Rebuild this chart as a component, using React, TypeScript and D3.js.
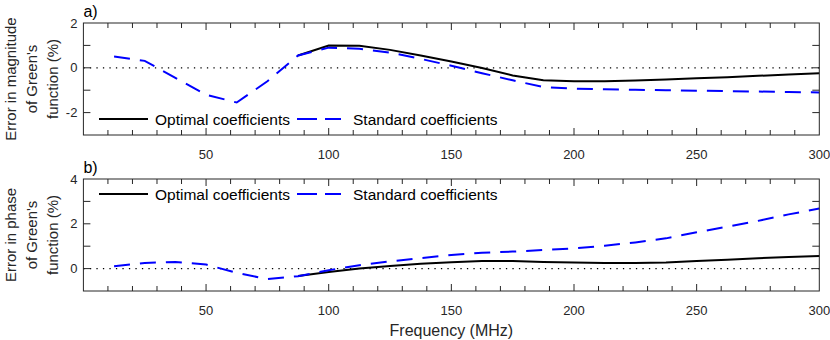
import React, { useEffect, useRef } from 'react';
import * as d3 from 'd3';

// frequency samples (MHz)
const freqLow = [12.5, 25, 37.5, 50, 62.5, 75, 87.5];
const freqHigh = [87.5, 100, 112.5, 125, 137.5, 150, 162.5, 175, 187.5, 200, 212.5, 225, 237.5, 250, 262.5, 275, 287.5, 300];

// a) magnitude error (%)
const magStandardLow = [0.5, 0.31, -0.45, -1.2, -1.55, -0.6, 0.55];
const magStandardHigh = [0.55, 0.9, 0.85, 0.68, 0.4, 0.09, -0.24, -0.56, -0.86, -0.93, -0.96, -0.98, -1.0, -1.02, -1.04, -1.06, -1.08, -1.1];
const magOptimal = [0.55, 0.99, 0.98, 0.8, 0.55, 0.28, -0.01, -0.34, -0.56, -0.6, -0.6, -0.57, -0.52, -0.47, -0.42, -0.36, -0.3, -0.24];

// b) phase error (%)
const phaseStandardLow = [0.1, 0.25, 0.3, 0.18, -0.19, -0.47, -0.34];
const phaseStandardHigh = [-0.34, -0.07, 0.15, 0.32, 0.47, 0.61, 0.71, 0.76, 0.83, 0.9, 1.02, 1.17, 1.35, 1.62, 1.87, 2.13, 2.42, 2.68];
const phaseOptimal = [-0.33, -0.15, 0.0, 0.12, 0.22, 0.28, 0.34, 0.34, 0.3, 0.27, 0.25, 0.25, 0.27, 0.34, 0.4, 0.46, 0.52, 0.56];

const xTicks = [50, 100, 150, 200, 250, 300];
const magTicks = [-2, 0, 2];
const phaseTicks = [0, 2, 4];
const legendLabels = ['Optimal coefficients', 'Standard coefficients'];

const W = 830;
const H = 340;
const FONT = '"Liberation Sans", Arial, Helvetica, sans-serif';
const INK = '#262626';
const BLUE = '#0000ff';

export default function App() {
  const svgRef = useRef<SVGSVGElement | null>(null);

  useEffect(() => {
    const svg = d3.select(svgRef.current);
    svg.selectAll('*').remove();

    const left = 83.4;
    const right = 819.3;
    const x = d3.scaleLinear().domain([0, 300]).range([left, right]);

    const panels = [
      {
        label: 'a)', top: 23, bottom: 135, domain: [-3, 2], ticks: magTicks,
        ylab: ['Error in magnitude', "of Green's", 'function (%)'],
        opt: magOptimal, stdLow: magStandardLow, stdHigh: magStandardHigh,
        legendY: 119, xlab: false,
      },
      {
        label: 'b)', top: 179, bottom: 291, domain: [-1, 4], ticks: phaseTicks,
        ylab: ['Error in phase', "of Green's", 'function (%)'],
        opt: phaseOptimal, stdLow: phaseStandardLow, stdHigh: phaseStandardHigh,
        legendY: 194, xlab: true,
      },
    ];

    panels.forEach(p => {
      const y = d3.scaleLinear().domain(p.domain).range([p.bottom, p.top]);
      const g = svg.append('g');

      // zero line
      g.append('line').attr('x1', left).attr('x2', right).attr('y1', y(0)).attr('y2', y(0))
        .attr('stroke', '#000').attr('stroke-width', 1.3).attr('stroke-dasharray', '1.3 5.2');

      const line = d3.line<[number, number]>().x(d => x(d[0])).y(d => y(d[1]));
      const stdPts = [
        ...freqLow.map((f, i) => [f, p.stdLow[i]] as [number, number]),
        ...freqHigh.slice(1).map((f, i) => [f, p.stdHigh[i + 1]] as [number, number]),
      ];
      const optPts = freqHigh.map((f, i) => [f, p.opt[i]] as [number, number]);

      g.append('path').datum(optPts).attr('d', line).attr('fill', 'none')
        .attr('stroke', '#000').attr('stroke-width', 2);
      g.append('path').datum(stdPts).attr('d', line).attr('fill', 'none')
        .attr('stroke', BLUE).attr('stroke-width', 2).attr('stroke-dasharray', '16 10');

      // box
      g.append('rect').attr('x', left).attr('y', p.top).attr('width', right - left).attr('height', p.bottom - p.top)
        .attr('fill', 'none').attr('stroke', INK).attr('stroke-width', 1);

      // x ticks, inward, on both edges
      d3.range(10, 300, 10).forEach(v => {
        const len = v % 50 === 0 ? 7 : 5;
        g.append('line').attr('x1', x(v)).attr('x2', x(v)).attr('y1', p.bottom).attr('y2', p.bottom - len)
          .attr('stroke', INK);
        g.append('line').attr('x1', x(v)).attr('x2', x(v)).attr('y1', p.top).attr('y2', p.top + len)
          .attr('stroke', INK);
      });
      xTicks.forEach(v => {
        g.append('text').attr('x', x(v)).attr('y', p.bottom + 24).attr('text-anchor', 'middle')
          .attr('font-size', 13).attr('fill', INK).attr('font-family', FONT).text(v);
      });

      // y ticks
      d3.range(p.domain[0], p.domain[1] + 0.01, 1).forEach(v => {
        if (v === p.domain[0] || v === p.domain[1]) return;
        g.append('line').attr('x1', left).attr('x2', left + 7).attr('y1', y(v)).attr('y2', y(v)).attr('stroke', INK);
        g.append('line').attr('x1', right).attr('x2', right - 7).attr('y1', y(v)).attr('y2', y(v)).attr('stroke', INK);
      });
      p.ticks.forEach(v => {
        g.append('text').attr('x', left - 6).attr('y', y(v) + 4.5).attr('text-anchor', 'end')
          .attr('font-size', 13).attr('fill', INK).attr('font-family', FONT).text(v);
      });

      // y label
      const cy = (p.top + p.bottom) / 2;
      p.ylab.forEach((t, i) => {
        g.append('text').attr('transform', `translate(${15.5 + i * 21.2},${cy}) rotate(-90)`)
          .attr('text-anchor', 'middle').attr('font-size', 15).attr('fill', INK).attr('font-family', FONT).text(t);
      });

      // panel label
      g.append('text').attr('x', left).attr('y', p.top - 6).attr('font-size', 16).attr('fill', '#000')
        .attr('font-family', FONT).text(p.label);

      // legend
      const ly = p.legendY;
      g.append('line').attr('x1', 99).attr('x2', 148).attr('y1', ly).attr('y2', ly)
        .attr('stroke', '#000').attr('stroke-width', 2);
      g.append('text').attr('x', 155).attr('y', ly + 5.5).attr('font-size', 15.5).attr('fill', '#000')
        .attr('font-family', FONT).text(legendLabels[0]);
      g.append('line').attr('x1', 297).attr('x2', 341).attr('y1', ly).attr('y2', ly)
        .attr('stroke', BLUE).attr('stroke-width', 2).attr('stroke-dasharray', '20 8');
      g.append('text').attr('x', 353).attr('y', ly + 5.5).attr('font-size', 15.5).attr('fill', '#000')
        .attr('font-family', FONT).text(legendLabels[1]);

      if (p.xlab) {
        g.append('text').attr('x', (left + right) / 2).attr('y', 335.5).attr('text-anchor', 'middle')
          .attr('font-size', 16).attr('fill', INK).attr('font-family', FONT).text('Frequency (MHz)');
      }
    });
  }, []);

  return (
    <svg ref={svgRef} width={W} height={H}
      style={{ position: 'absolute', left: 0, top: 0, display: 'block', background: '#fff' }} />
  );
}
